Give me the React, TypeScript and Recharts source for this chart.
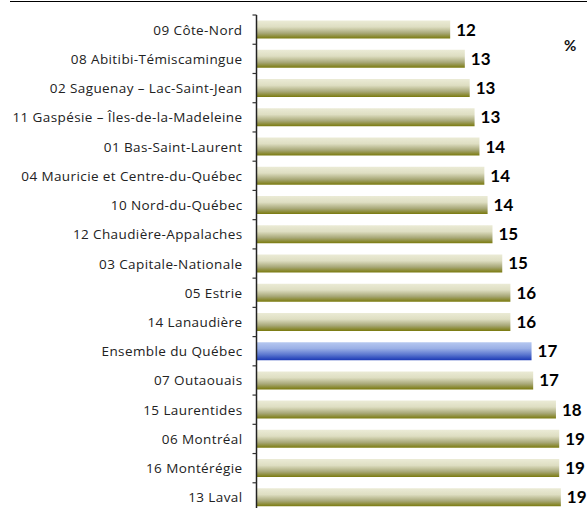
import { BarChart, Bar, XAxis, YAxis, Cell, LabelList } from "recharts";

const regions = [
  "09 Côte-Nord",
  "08 Abitibi-Témiscamingue",
  "02 Saguenay – Lac-Saint-Jean",
  "11 Gaspésie – Îles-de-la-Madeleine",
  "01 Bas-Saint-Laurent",
  "04 Mauricie et Centre-du-Québec",
  "10 Nord-du-Québec",
  "12 Chaudière-Appalaches",
  "03 Capitale-Nationale",
  "05 Estrie",
  "14 Lanaudière",
  "Ensemble du Québec",
  "07 Outaouais",
  "15 Laurentides",
  "06 Montréal",
  "16 Montérégie",
  "13 Laval",
];

const pct = [
  11.9, 12.8, 13.1, 13.4, 13.7, 14.0, 14.2, 14.5, 15.1, 15.6, 15.6, 16.9, 17.0,
  18.4, 18.6, 18.6, 18.7,
];

const highlight = "Ensemble du Québec";

const data = regions.map((name, i) => ({ name, value: pct[i] }));

const LABEL_FONT = "'Open Sans', sans-serif";
const VALUE_FONT = "Lato, 'Open Sans', sans-serif";
const AXIS_X = 256.5;

function RegionTick(props: any) {
  const { y, payload, index, visibleTicksCount } = props;
  const half = 14.6;
  return (
    <g>
      <line x1={AXIS_X - 4} x2={AXIS_X} y1={y - half} y2={y - half} stroke="#333" strokeWidth={1.2} />
      {index === visibleTicksCount - 1 && (
        <line x1={AXIS_X - 4} x2={AXIS_X} y1={y + half} y2={y + half} stroke="#333" strokeWidth={1.2} />
      )}
      <text
        x={AXIS_X - 14}
        y={y}
        dy={5}
        textAnchor="end"
        fill="#222"
        fontSize={13.5}
        letterSpacing={0.4}
        fontFamily={LABEL_FONT}
      >
        {payload.value}
      </text>
    </g>
  );
}

export default function App() {
  return (
    <div style={{ position: "absolute", left: 0, top: 0, width: 587, height: 508, overflow: "hidden", background: "#fff" }}>
      <div style={{ position: "absolute", left: 10, top: 1, width: 577, height: 1, background: "#000" }} />
      <div
        style={{
          position: "absolute",
          left: 564,
          top: 36,
          fontFamily: VALUE_FONT,
          fontWeight: 700,
          fontSize: 15,
          color: "#111",
        }}
      >
        %
      </div>
      <BarChart
        width={587}
        height={512}
        data={data}
        layout="vertical"
        margin={{ top: 15, right: 5, bottom: 0, left: 0 }}
        barCategoryGap="19%"
      >
        <defs>
          <linearGradient id="olive" x1="0" y1="0" x2="0" y2="1">
            <stop offset="0%" stopColor="#ebebd6" />
            <stop offset="35%" stopColor="#dedec2" />
            <stop offset="70%" stopColor="#a8a878" />
            <stop offset="100%" stopColor="#7a7a0e" />
          </linearGradient>
          <linearGradient id="blue" x1="0" y1="0" x2="0" y2="1">
            <stop offset="0%" stopColor="#b6c8f0" />
            <stop offset="35%" stopColor="#9bb0e6" />
            <stop offset="70%" stopColor="#5a76cf" />
            <stop offset="100%" stopColor="#1c3ab6" />
          </linearGradient>
        </defs>
        <XAxis type="number" domain={[0, 20]} hide />
        <YAxis
          type="category"
          dataKey="name"
          width={AXIS_X}
          axisLine={{ stroke: "#222", strokeWidth: 1.5 }}
          tickLine={false}
          tick={<RegionTick />}
          interval={0}
        />
        <Bar dataKey="value" isAnimationActive={false}>
          {data.map((d) => (
            <Cell key={d.name} fill={d.name === highlight ? "url(#blue)" : "url(#olive)"} />
          ))}
          <LabelList
            dataKey="value"
            position="right"
            offset={6}
            formatter={(v: any) => Math.round(Number(v))}
            fill="#000"
            fontSize={17}
            fontWeight={700}
            fontFamily={VALUE_FONT}
          />
        </Bar>
      </BarChart>
    </div>
  );
}
